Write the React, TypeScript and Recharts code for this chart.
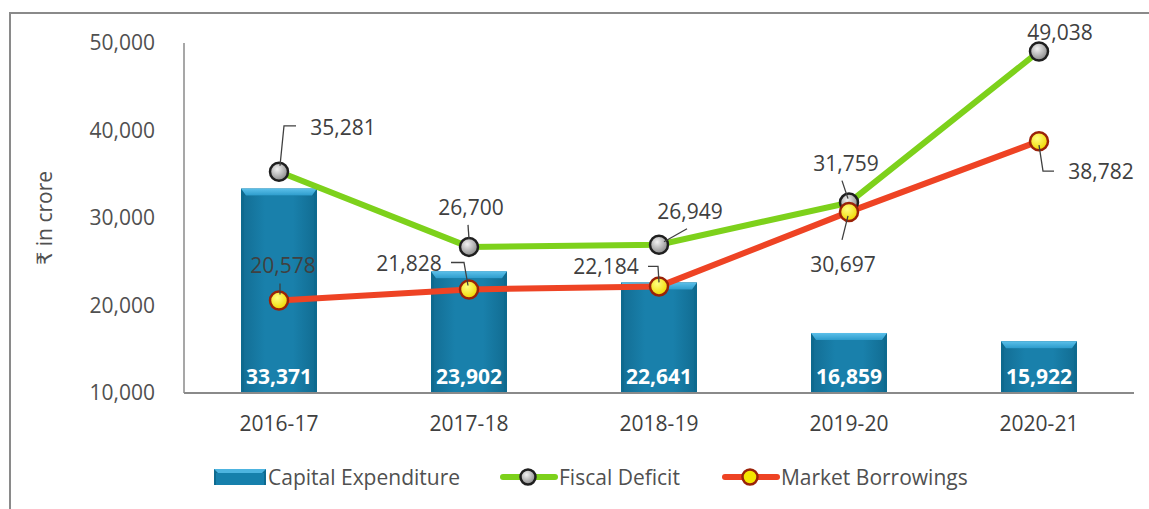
import React from 'react';
import { ComposedChart, Bar, Line, XAxis, YAxis, LabelList } from 'recharts';

// values (₹ in crore)
const years = ['2016-17', '2017-18', '2018-19', '2019-20', '2020-21'];
const capitalExpenditure = [33371, 23902, 22641, 16859, 15922];
const fiscalDeficit = [35281, 26700, 26949, 31759, 49038];
const marketBorrowings = [20578, 21828, 22184, 30697, 38782];
const yTicks = [10000, 20000, 30000, 40000, 50000];

const data = years.map((year, i) => ({
  year,
  capex: capitalExpenditure[i],
  fiscal: fiscalDeficit[i],
  market: marketBorrowings[i],
}));

const FONT = '"Open Sans", "DejaVu Sans", sans-serif';
const TEXT = '#404040';
const FS = 21;

// label placement relative to each marker, plus leader line points
type LabelPos = { dx: number; dy: number; leader?: number[][] };
const fiscalLabelPos: LabelPos[] = [
  { dx: 64, dy: -45, leader: [[1, -6], [5, -46], [17, -46]] },
  { dx: 2, dy: -40, leader: [[-1, -22], [0, -8]] },
  { dx: 31, dy: -34, leader: [[5, -3], [28, -16]] },
  { dx: -3, dy: -40, leader: [[-7, -22], [-1, -4]] },
  { dx: 21, dy: -19 },
];
const marketLabelPos: LabelPos[] = [
  { dx: 4, dy: -35, leader: [[1, -17], [1, -6]] },
  { dx: -60, dy: -27, leader: [[-18, -27], [-5, -27], [-1, -4]] },
  { dx: -53, dy: -20, leader: [[-11, -20], [-1, -20], [0, -4]] },
  { dx: -6, dy: 52, leader: [[-7, 28], [-1, 4]] },
  { dx: 62, dy: 30, leader: [[0, 4], [4, 30], [15, 30]] },
];

const fmt = (v: number) => v.toLocaleString('en-US');

const makeLineLabel = (pos: LabelPos[]) => (props: any) => {
  const { x, y, value, index } = props;
  const p = pos[index];
  if (!p || x == null || y == null) return null;
  return (
    <g>
      {p.leader && (
        <polyline
          points={p.leader.map(([a, b]) => `${x + a},${y + b}`).join(' ')}
          fill="none"
          stroke="#404040"
          strokeWidth={1.3}
        />
      )}
      <text
        x={x + p.dx}
        y={y + p.dy}
        textAnchor="middle"
        dominantBaseline="central"
        fontFamily={FONT}
        fontSize={FS}
        fill={TEXT}
      >
        {fmt(value)}
      </text>
    </g>
  );
};

const BarValueLabel = (props: any) => {
  const { x, y, width, height, value } = props;
  return (
    <text
      x={x + width / 2}
      y={y + height - 17}
      textAnchor="middle"
      dominantBaseline="central"
      fontFamily={FONT}
      fontWeight="bold"
      fontSize={FS}
      fill="#ffffff"
    >
      {fmt(value)}
    </text>
  );
};

const BevelBar = (props: any) => {
  const { x, y, width, height } = props;
  if (!height || height <= 0) return null;
  const b = 7;
  return (
    <g>
      <rect x={x} y={y} width={width} height={height} fill="#0e6a8f" />
      <rect x={x + 3} y={y + b} width={width - 6} height={height - b} fill="url(#barFace)" />
      <polygon
        points={`${x},${y} ${x + width},${y} ${x + width - 5},${y + b} ${x + 5},${y + b}`}
        fill="url(#barTop)"
      />
    </g>
  );
};

const FiscalDot = (props: any) => {
  const { cx, cy, index } = props;
  return <circle key={`f-${index}`} cx={cx} cy={cy} r={9} fill="url(#grayBall)" stroke="#1f1f1f" strokeWidth={2.5} />;
};

const MarketDot = (props: any) => {
  const { cx, cy, index } = props;
  return <circle key={`m-${index}`} cx={cx} cy={cy} r={9} fill="url(#yellowBall)" stroke="#9a2208" strokeWidth={2.5} />;
};

const LegendBlock = () => (
  <div
    style={{
      position: 'absolute',
      top: 463,
      left: 213,
      display: 'flex',
      alignItems: 'center',
      fontFamily: FONT,
      fontSize: FS,
      color: '#505050',
      whiteSpace: 'nowrap',
    }}
  >
    <svg width={54} height={18}>
      <rect x={1} y={1} width={52} height={16} fill="#0e6a8f" />
      <rect x={3} y={5} width={48} height={12} fill="#1680ac" />
      <polygon points="1,1 53,1 49,5 5,5" fill="#4db4e0" />
    </svg>
    <span style={{ marginLeft: 1 }}>Capital Expenditure</span>
    <svg width={58} height={22} style={{ marginLeft: 40 }}>
      <line x1={3} y1={11} x2={55} y2={11} stroke="#7dd11b" strokeWidth={6} strokeLinecap="round" />
      <circle cx={28} cy={11} r={7.5} fill="url(#legendGray)" stroke="#1f1f1f" strokeWidth={2.5} />
      <defs>
        <radialGradient id="legendGray" cx="40%" cy="35%" r="65%">
          <stop offset="0%" stopColor="#f2f2f2" />
          <stop offset="100%" stopColor="#8a8a8a" />
        </radialGradient>
      </defs>
    </svg>
    <span style={{ marginLeft: 1 }}>Fiscal Deficit</span>
    <svg width={58} height={22} style={{ marginLeft: 42 }}>
      <line x1={3} y1={11} x2={55} y2={11} stroke="#ee4324" strokeWidth={6} strokeLinecap="round" />
      <circle cx={28} cy={11} r={7.5} fill="#f4e600" stroke="#9a2208" strokeWidth={2.5} />
    </svg>
    <span style={{ marginLeft: 1 }}>Market Borrowings</span>
  </div>
);

const App: React.FC = () => {
  return (
    <div
      style={{
        position: 'absolute',
        left: 0,
        top: 0,
        width: 1149,
        height: 509,
        overflow: 'hidden',
        background: '#ffffff',
      }}
    >
      <div
        style={{
          position: 'absolute',
          left: 9,
          top: 12,
          width: 1300,
          height: 700,
          border: '2px solid #8a8a8a',
        }}
      />
      <div style={{ position: 'absolute', left: 0, top: 0 }}>
        <ComposedChart
          width={1149}
          height={509}
          data={data}
          margin={{ top: 43, right: 15, bottom: 86, left: 0 }}
        >
          <defs>
            <linearGradient id="barFace" x1="0" y1="0" x2="1" y2="0">
              <stop offset="0%" stopColor="#136f96" />
              <stop offset="30%" stopColor="#1980ab" />
              <stop offset="70%" stopColor="#1980ab" />
              <stop offset="100%" stopColor="#126e94" />
            </linearGradient>
            <linearGradient id="barTop" x1="0" y1="0" x2="0" y2="1">
              <stop offset="0%" stopColor="#5cc0ea" />
              <stop offset="100%" stopColor="#2d9ccc" />
            </linearGradient>
            <radialGradient id="grayBall" cx="40%" cy="35%" r="65%">
              <stop offset="0%" stopColor="#f2f2f2" />
              <stop offset="100%" stopColor="#8a8a8a" />
            </radialGradient>
            <radialGradient id="yellowBall" cx="40%" cy="35%" r="65%">
              <stop offset="0%" stopColor="#ffff80" />
              <stop offset="100%" stopColor="#f0d800" />
            </radialGradient>
          </defs>
          <XAxis
            dataKey="year"
            height={30}
            tickLine={false}
            axisLine={{ stroke: '#8a8a8a', strokeWidth: 2 }}
            tick={{ fill: TEXT, fontSize: FS, fontFamily: FONT }}
            tickMargin={17}
          />
          <YAxis
            width={184}
            domain={[10000, 50000]}
            ticks={yTicks}
            tickFormatter={fmt}
            tickLine={false}
            axisLine={{ stroke: '#8a8a8a', strokeWidth: 1.5 }}
            tick={{ fill: '#505050', fontSize: FS, fontFamily: FONT }}
            tickMargin={23}
            label={{
              value: '₹ in crore',
              angle: -90,
              position: 'insideLeft',
              offset: 45,
              style: { fill: '#505050', fontSize: FS, fontFamily: FONT, textAnchor: 'middle' },
            }}
          />
          <Bar dataKey="capex" name="Capital Expenditure" barSize={76} shape={<BevelBar />} isAnimationActive={false}>
            <LabelList dataKey="capex" content={<BarValueLabel />} />
          </Bar>
          <Line
            dataKey="fiscal"
            name="Fiscal Deficit"
            stroke="#7dd11b"
            strokeWidth={6}
            dot={FiscalDot}
            activeDot={false}
            isAnimationActive={false}
          >
            <LabelList dataKey="fiscal" content={makeLineLabel(fiscalLabelPos)} />
          </Line>
          <Line
            dataKey="market"
            name="Market Borrowings"
            stroke="#ee4324"
            strokeWidth={6}
            dot={MarketDot}
            activeDot={false}
            isAnimationActive={false}
          >
            <LabelList dataKey="market" content={makeLineLabel(marketLabelPos)} />
          </Line>
        </ComposedChart>
      </div>
      <LegendBlock />
    </div>
  );
};

export default App;
